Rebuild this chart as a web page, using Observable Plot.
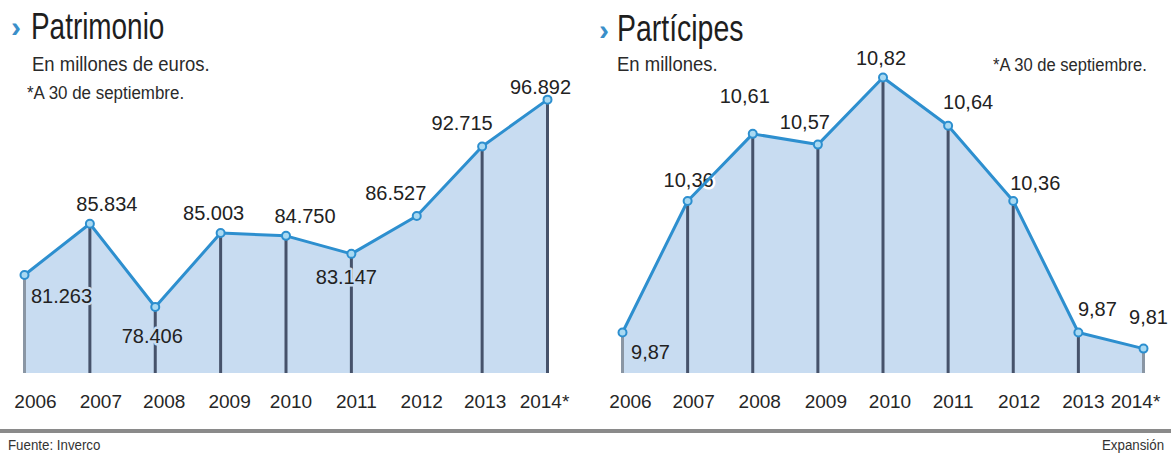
<!DOCTYPE html>
<html>
<head>
<meta charset="utf-8">
<script src="https://cdn.jsdelivr.net/npm/d3@7"></script>
<script src="https://cdn.jsdelivr.net/npm/@observablehq/plot@0.6"></script>
<style>
  html, body { margin: 0; padding: 0; background: #fff; }
  #wrap { position: relative; width: 1171px; height: 455px; overflow: hidden; background: #fff;
          font-family: "Liberation Sans", Arial, sans-serif; color: #222; }
  .t { position: absolute; white-space: nowrap; line-height: 1; transform-origin: 0 0; }
  #left, #right { position: absolute; top: 0; }
  #left { left: 0; }
  #right { left: 585px; }
</style>
</head>
<body>
<div id="wrap">
  <div id="left"></div>
  <div id="right"></div>

  <div class="t" style="left:11px;top:12px;font-size:30px;font-weight:bold;color:#3a8fc9;">›</div>
  <div class="t" style="left:31px;top:9px;font-size:36px;color:#1e1e1e;transform:scaleX(0.775);">Patrimonio</div>
  <div class="t" style="left:32px;top:53px;font-size:21px;color:#2a2a2a;transform:scaleX(0.88);">En millones de euros.</div>
  <div class="t" style="left:27px;top:84px;font-size:18px;color:#2a2a2a;transform:scaleX(0.94);">*A 30 de septiembre.</div>

  <div class="t" style="left:599px;top:15px;font-size:30px;font-weight:bold;color:#3a8fc9;">›</div>
  <div class="t" style="left:617px;top:11px;font-size:36px;color:#1e1e1e;transform:scaleX(0.79);">Partícipes</div>
  <div class="t" style="left:617px;top:53px;font-size:21px;color:#2a2a2a;transform:scaleX(0.88);">En millones.</div>
  <div class="t" style="left:993px;top:56px;font-size:18px;color:#2a2a2a;transform:scaleX(0.92);">*A 30 de septiembre.</div>

  <div style="position:absolute;left:0;top:429px;width:1171px;height:4px;background:#8a8a8a;"></div>
  <div class="t" style="left:8px;top:438px;font-size:14px;color:#333;transform:scaleX(0.95);">Fuente: Inverco</div>
  <div class="t" style="left:1102px;top:438px;font-size:14px;color:#333;transform:scaleX(0.95);">Expansión</div>
</div>

<script>
// ---- data ----
const years = [2006, 2007, 2008, 2009, 2010, 2011, 2012, 2013, 2014];
const yearLabels = ["2006", "2007", "2008", "2009", "2010", "2011", "2012", "2013", "2014*"];
const patrimonio = [81263, 85834, 78406, 85003, 84750, 83147, 86527, 92715, 96892]; // millones de euros
const participes = [9.87, 10.36, 10.61, 10.57, 10.82, 10.64, 10.36, 9.87, 9.81];     // millones

// ---- layout (label offsets from each point, px) ----
const patrimonioLabelOffsets = [[37,22],[17,-19],[-3,30],[-7,-19],[19,-19],[-5,24],[-21,-22],[-20,-23],[-7,-12]];
const participesLabelOffsets = [[28,20],[1,-20],[-8,-37],[-13,-22],[-2,-19],[20,-23],[22,-17],[19,-23],[5,-31]];
const patrimonioYearDx = [11, 11, 9, 9, 5, 5, 5, 3, -3];
const participesYearDx = [8, 6, 7, 8, 7, 5, 6, 5, -8];
const patrimonioNoDrop = [2012];

const es = d3.formatLocale({decimal: ",", thousands: ".", grouping: [3], currency: ["", "€"]});
const fmtMiles = es.format(",");
const fmtDec = es.format(".2f");

const AREA = "#c8dcf1", LINE = "#2d8fcf", DOT = "#a9d9f2", DROP = "#46526a", DROP_LIGHT = "#8a96a4";
const FONT = "'Liberation Sans', Arial, sans-serif";

function panel({values, fmt, offsets, yearDx, yDomain, xRange, width, noDrop, lightYears}) {
  const rows = years.map((yr, i) => ({year: yr, value: values[i], label: fmt(values[i]), off: offsets[i]}));
  const yMin = yDomain[0];
  const labelMarks = rows.map(r => Plot.text([r], {
    x: "year", y: "value", text: "label",
    dx: r.off[0], dy: r.off[1],
    fontSize: 20, fill: "#222", textAnchor: "middle", lineAnchor: "middle",
    stroke: r.off[1] > 0 ? AREA : "#fff", strokeWidth: 5
  }));
  const yearMarks = years.map((yr, i) => Plot.text([yr], {
    x: d => d, text: [yearLabels[i]], frameAnchor: "bottom",
    dx: yearDx[i], dy: 28, fontSize: 19, fill: "#262626",
    textAnchor: "middle", lineAnchor: "middle"
  }));
  return Plot.plot({
    width, height: 455,
    marginTop: 0, marginBottom: 82, marginLeft: 0, marginRight: 0,
    x: {type: "linear", domain: [2006, 2014], range: xRange, label: null, axis: null},
    y: {type: "linear", domain: yDomain, range: [373, 60], axis: null},
    style: {fontFamily: FONT, background: "transparent", overflow: "visible"},
    marks: [
      Plot.areaY(rows, {x: "year", y1: yMin, y2: "value", fill: AREA}),
      Plot.ruleX(rows.filter(r => !noDrop.includes(r.year) && !lightYears.includes(r.year)),
        {x: "year", y1: yMin, y2: "value", stroke: DROP, strokeWidth: 3}),
      Plot.ruleX(rows.filter(r => lightYears.includes(r.year)),
        {x: "year", y1: yMin, y2: "value", stroke: DROP_LIGHT, strokeWidth: 3}),
      ...labelMarks,
      Plot.line(rows, {x: "year", y: "value", stroke: LINE, strokeWidth: 3}),
      Plot.dot(rows, {x: "year", y: "value", r: 4, fill: DOT, stroke: LINE, strokeWidth: 2}),
      ...yearMarks
    ]
  });
}

document.getElementById("left").append(panel({
  values: patrimonio, fmt: fmtMiles, offsets: patrimonioLabelOffsets, yearDx: patrimonioYearDx,
  yDomain: [72483, 100380], xRange: [24, 547], width: 585,
  noDrop: patrimonioNoDrop, lightYears: [2006]
}));

document.getElementById("right").append(panel({
  values: participes, fmt: fmtDec, offsets: participesLabelOffsets, yearDx: participesYearDx,
  yDomain: [9.7172, 10.8833], xRange: [37, 558], width: 586,
  noDrop: [], lightYears: [2006, 2014]
}));
</script>
</body>
</html>
